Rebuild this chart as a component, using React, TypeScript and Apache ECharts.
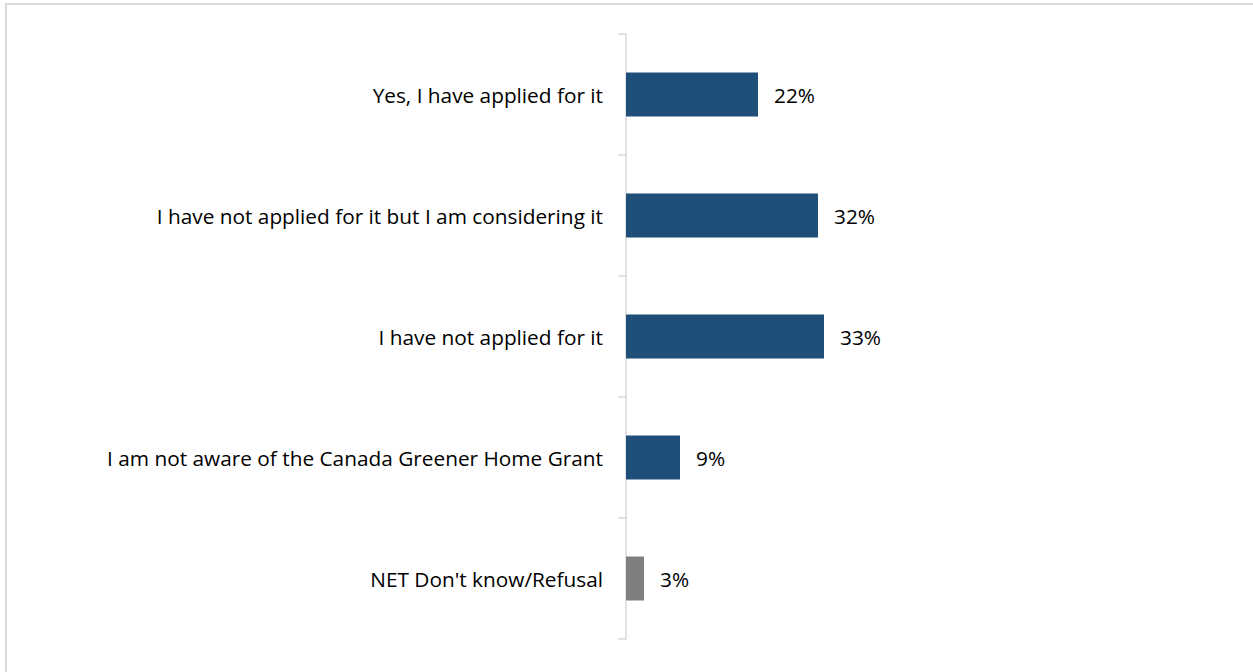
import React, { useEffect, useRef } from "react";
import * as echarts from "echarts";

const categories = [
  "Yes, I have applied for it",
  "I have not applied for it but I am considering it",
  "I have not applied for it",
  "I am not aware of the Canada Greener Home Grant",
  "NET Don't know/Refusal",
];
const values = [22, 32, 33, 9, 3];
const barColors = ["#1F4E79", "#1F4E79", "#1F4E79", "#1F4E79", "#7F7F7F"];

const FONT = "Open Sans";
const FONT_SIZE = 20.8;

export default function App() {
  const ref = useRef<HTMLDivElement>(null);
  useEffect(() => {
    if (!ref.current) return;
    const chart = echarts.init(ref.current, undefined, { renderer: "svg" });
    chart.setOption({
      animation: false,
      backgroundColor: "#ffffff",
      graphic: [
        {
          type: "rect",
          shape: { x: 6, y: 4, width: 1300, height: 700 },
          style: { fill: "none", stroke: "#D9D9D9", lineWidth: 2 },
          silent: true,
        },
      ],
      grid: { left: 626, top: 34, width: 600, height: 605, containLabel: false },
      xAxis: {
        type: "value",
        min: 0,
        max: 100,
        show: false,
      },
      yAxis: {
        type: "category",
        data: categories,
        inverse: true,
        axisLine: { show: true, lineStyle: { color: "#D9D9D9", width: 1.5 } },
        axisTick: { show: true, length: 8, lineStyle: { color: "#D9D9D9", width: 1.5 } },
        axisLabel: {
          margin: 23,
          color: "#000000",
          fontFamily: FONT,
          fontSize: FONT_SIZE,
        },
        splitLine: { show: false },
      },
      series: [
        {
          type: "bar",
          data: values.map((v, i) => ({ value: v, itemStyle: { color: barColors[i] } })),
          barWidth: 44,
          label: {
            show: true,
            position: "right",
            distance: 16,
            formatter: "{c}%",
            color: "#000000",
            fontFamily: FONT,
            fontSize: FONT_SIZE,
          },
        },
      ],
    });
    return () => chart.dispose();
  }, []);
  return (
    <div
      ref={ref}
      style={{ position: "fixed", left: 0, top: 0, width: 1253, height: 672 }}
    />
  );
}
